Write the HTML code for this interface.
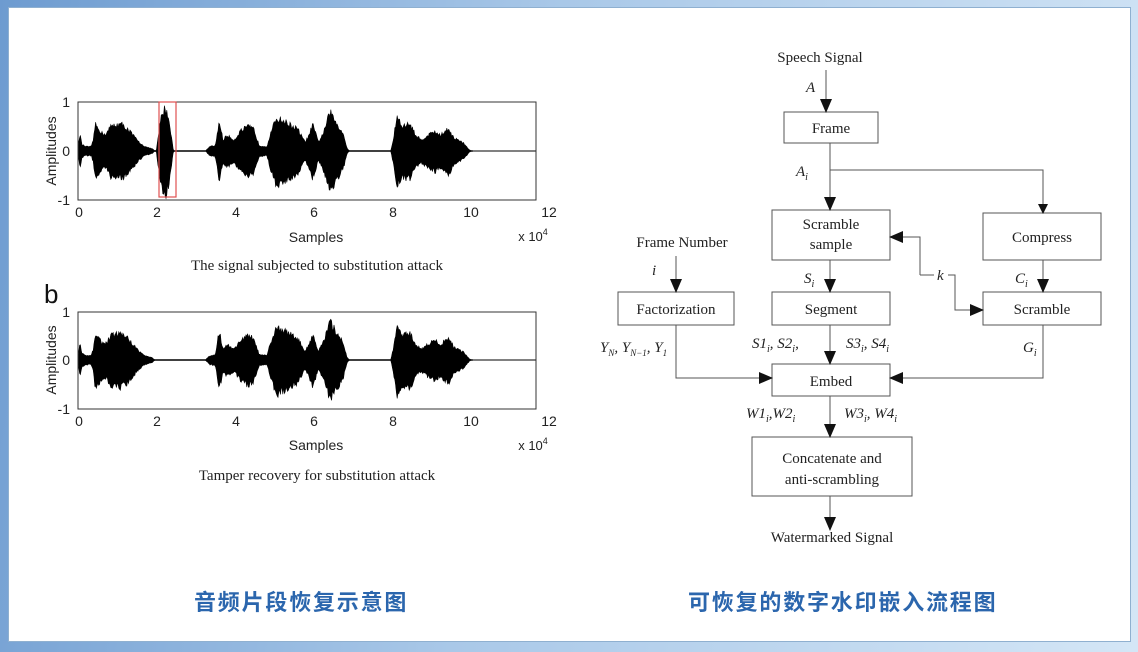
<!DOCTYPE html>
<html><head><meta charset="utf-8"><style>
html,body{margin:0;padding:0;width:1138px;height:652px;overflow:hidden}
body{background:linear-gradient(100deg,#6d9bd0 0%,#a9c8e8 45%,#d4e6f6 100%);position:relative;font-family:"Liberation Sans",sans-serif}
#panel{position:absolute;left:8px;top:7px;width:1121px;height:633px;background:#fff;border:1px solid #8fb0d0}
svg{position:absolute;left:0;top:0}
.cap{position:absolute;top:585px;font-family:"Liberation Sans","Noto Sans CJK SC",sans-serif;font-weight:bold;font-size:22px;color:#2b66ad;letter-spacing:1.8px}
</style></head><body>
<div id="panel"></div>
<svg width="1138" height="652" viewBox="0 0 1138 652" font-family="Liberation Sans, sans-serif">
<defs><marker id="ar" markerWidth="10" markerHeight="10" refX="9" refY="5" orient="auto" markerUnits="userSpaceOnUse"><path d="M0,0 L10,5 L0,10 z" fill="#111"/></marker>
<marker id="a2" markerWidth="14" markerHeight="12" refX="13" refY="6" orient="auto" markerUnits="userSpaceOnUse"><path d="M0,0 L14,6 L0,12 z" fill="#111"/></marker></defs>
<g id="plots"></g>
<rect x="78" y="102" width="458" height="98" fill="none" stroke="#333" stroke-width="1"/>
<rect x="159" y="102" width="17" height="95" fill="none" stroke="#e05050" stroke-width="1.2"/>
<g font-size="14" fill="#222" text-anchor="middle">
<text x="70" y="107" text-anchor="end">1</text><text x="70" y="156" text-anchor="end">0</text><text x="70" y="205" text-anchor="end">-1</text>
<text x="79" y="217">0</text><text x="157" y="217">2</text><text x="236" y="217">4</text><text x="314" y="217">6</text><text x="393" y="217">8</text><text x="471" y="217">10</text><text x="549" y="217">12</text>
<text x="316" y="242" font-size="14">Samples</text><text x="533" y="241" font-size="13">x 10<tspan dy="-6" font-size="9">4</tspan></text>
<text transform="translate(56,151) rotate(-90)" font-size="14">Amplitudes</text>
<text x="317" y="270" font-family="Liberation Serif, serif" font-size="15">The signal subjected to substitution attack</text>
</g>
<text x="44" y="303" font-size="26" fill="#111">b</text>
<rect x="78" y="312" width="458" height="97" fill="none" stroke="#333" stroke-width="1"/>
<g font-size="14" fill="#222" text-anchor="middle">
<text x="70" y="317" text-anchor="end">1</text><text x="70" y="365" text-anchor="end">0</text><text x="70" y="414" text-anchor="end">-1</text>
<text x="79" y="426">0</text><text x="157" y="426">2</text><text x="236" y="426">4</text><text x="314" y="426">6</text><text x="393" y="426">8</text><text x="471" y="426">10</text><text x="549" y="426">12</text>
<text x="316" y="450" font-size="14">Samples</text><text x="533" y="450" font-size="13">x 10<tspan dy="-6" font-size="9">4</tspan></text>
<text transform="translate(56,360) rotate(-90)" font-size="14">Amplitudes</text>
<text x="317" y="480" font-family="Liberation Serif, serif" font-size="15">Tamper recovery for substitution attack</text>
</g>
<g font-family="Liberation Serif, serif" font-size="15" fill="#222" stroke="none">
<text x="820" y="62" text-anchor="middle">Speech Signal</text>
<text x="806" y="92" font-style="italic">A</text>
<text x="682" y="247" text-anchor="middle">Frame Number</text>
<text x="652" y="275" font-style="italic">i</text>
<text x="796" y="176" font-style="italic">A<tspan font-size="10" dy="4">i</tspan></text>
<text x="804" y="283" font-style="italic">S<tspan font-size="10" dy="4">i</tspan></text>
<text x="1015" y="283" font-style="italic">C<tspan font-size="10" dy="4">i</tspan></text>
<text x="937" y="280" font-style="italic">k</text>
<text x="1023" y="352" font-style="italic">G<tspan font-size="10" dy="4">i</tspan></text>
<text x="600" y="352" font-style="italic">Y<tspan font-size="9" dy="4">N</tspan><tspan dy="-4">, Y</tspan><tspan font-size="9" dy="4">N−1</tspan><tspan dy="-4">,  Y</tspan><tspan font-size="9" dy="4">1</tspan></text>
<text x="752" y="348" font-style="italic">S1<tspan font-size="10" dy="4">i</tspan><tspan dy="-4">, S2</tspan><tspan font-size="10" dy="4">i</tspan><tspan dy="-4">,</tspan></text>
<text x="846" y="348" font-style="italic">S3<tspan font-size="10" dy="4">i</tspan><tspan dy="-4">, S4</tspan><tspan font-size="10" dy="4">i</tspan></text>
<text x="746" y="418" font-style="italic">W1<tspan font-size="10" dy="4">i</tspan><tspan dy="-4">,W2</tspan><tspan font-size="10" dy="4">i</tspan></text>
<text x="844" y="418" font-style="italic">W3<tspan font-size="10" dy="4">i</tspan><tspan dy="-4">, W4</tspan><tspan font-size="10" dy="4">i</tspan></text>
<text x="831" y="133" text-anchor="middle">Frame</text>
<text x="831" y="229" text-anchor="middle">Scramble</text><text x="831" y="249" text-anchor="middle">sample</text>
<text x="1042" y="242" text-anchor="middle">Compress</text>
<text x="831" y="314" text-anchor="middle">Segment</text>
<text x="1042" y="314" text-anchor="middle">Scramble</text>
<text x="676" y="314" text-anchor="middle">Factorization</text>
<text x="831" y="386" text-anchor="middle">Embed</text>
<text x="832" y="463" text-anchor="middle">Concatenate and</text><text x="832" y="484" text-anchor="middle">anti-scrambling</text>
<text x="832" y="542" text-anchor="middle">Watermarked Signal</text>
</g>
<g fill="none" stroke="#555" stroke-width="1">
<rect x="784" y="112" width="94" height="31"/>
<rect x="772" y="210" width="118" height="50"/>
<rect x="983" y="213" width="118" height="47"/>
<rect x="772" y="292" width="118" height="33"/>
<rect x="983" y="292" width="118" height="33"/>
<rect x="618" y="292" width="116" height="33"/>
<rect x="772" y="364" width="118" height="32"/>
<rect x="752" y="437" width="160" height="59"/>
</g>
<g fill="none" stroke="#555" stroke-width="1">
<line x1="826" y1="70" x2="826" y2="112" marker-end="url(#a2)"/>
<line x1="830" y1="143" x2="830" y2="210" marker-end="url(#a2)"/>
<polyline points="830,170 1043,170 1043,213" marker-end="url(#ar)"/>
<line x1="830" y1="260" x2="830" y2="292" marker-end="url(#a2)"/>
<line x1="1043" y1="260" x2="1043" y2="292" marker-end="url(#a2)"/>
<polyline points="920,275 920,237 890,237" marker-end="url(#a2)"/>
<line x1="920" y1="275" x2="934" y2="275"/>
<polyline points="948,275 955,275 955,310 983,310" marker-end="url(#a2)"/>
<line x1="676" y1="256" x2="676" y2="292" marker-end="url(#a2)"/>
<line x1="830" y1="325" x2="830" y2="364" marker-end="url(#a2)"/>
<polyline points="676,325 676,378 772,378" marker-end="url(#a2)"/>
<polyline points="1043,325 1043,378 890,378" marker-end="url(#a2)"/>
<line x1="830" y1="396" x2="830" y2="437" marker-end="url(#a2)"/>
<line x1="830" y1="496" x2="830" y2="530" marker-end="url(#a2)"/>
</g>
</svg>
<div class="cap" style="left:194px">音频片段恢复示意图</div>
<div class="cap" style="left:688px">可恢复的数字水印嵌入流程图</div>
<script>
var env=[[0,0.05],[0.05,0.4],[0.1,0.15],[0.2,0.1],[0.35,0.1],[0.4,0.25],[0.45,0.6],[0.55,0.5],[0.65,0.38],[0.75,0.4],[0.85,0.55],[1.0,0.6],[1.15,0.6],[1.3,0.5],[1.45,0.35],[1.6,0.2],[1.75,0.1],[1.95,0.05],[2.0,0.01],
[3.35,0.01],[3.45,0.1],[3.6,0.12],[3.7,0.68],[3.8,0.25],[3.9,0.35],[4.0,0.3],[4.1,0.25],[4.25,0.45],[4.45,0.55],[4.6,0.5],[4.75,0.12],[4.95,0.1],[5.05,0.4],[5.2,0.75],[5.45,0.65],[5.75,0.5],[5.95,0.2],[6.05,0.35],[6.15,0.6],[6.3,0.2],[6.45,0.45],[6.6,0.88],[6.8,0.6],[6.95,0.4],[7.05,0.06],[7.1,0.01],
[8.2,0.01],[8.28,0.35],[8.35,0.78],[8.5,0.55],[8.7,0.62],[8.85,0.35],[9.0,0.25],[9.15,0.35],[9.35,0.45],[9.5,0.35],[9.7,0.52],[9.85,0.3],[10.1,0.18],[10.25,0.03],[10.3,0.005]];
function amp(x){if(x<=0||x>=10.3)return 0.005;for(var i=1;i<env.length;i++){if(x<=env[i][0]){var a=env[i-1],b=env[i],t=(x-a[0])/(b[0]-a[0]);return a[1]+(b[1]-a[1])*t;}}return 0.005;}
var s=12345;function r(){s=(s*16807)%2147483647;return s/2147483647;}
function build(x0,w,y0,h,attack){var up=[],dn=[];var sc=w/12;
for(var px=0;px<=10.35*sc;px+=0.8){var x=px/sc;var a=amp(x);if(attack&&x>2.05&&x<2.5){a=0.95*Math.sin((x-2.05)/0.45*Math.PI);}
var u=Math.max(0.01,a*(0.78+0.22*r())),d=Math.max(0.01,a*(0.8+0.25*r()));up.push((x0+px).toFixed(1)+","+(y0-u*h).toFixed(1));dn.unshift((x0+px).toFixed(1)+","+(y0+d*h).toFixed(1));}
return '<polygon fill="#000" stroke="#000" stroke-width="0.6" points="'+up.join(" ")+" "+dn.join(" ")+'"/><line x1="'+x0+'" x2="'+(x0+w)+'" y1="'+y0+'" y2="'+y0+'" stroke="#000" stroke-width="1"/>';}
document.getElementById("plots").innerHTML=build(78,458,151,49,true)+build(78,458,360,48.5,false);
</script>
</body></html>
